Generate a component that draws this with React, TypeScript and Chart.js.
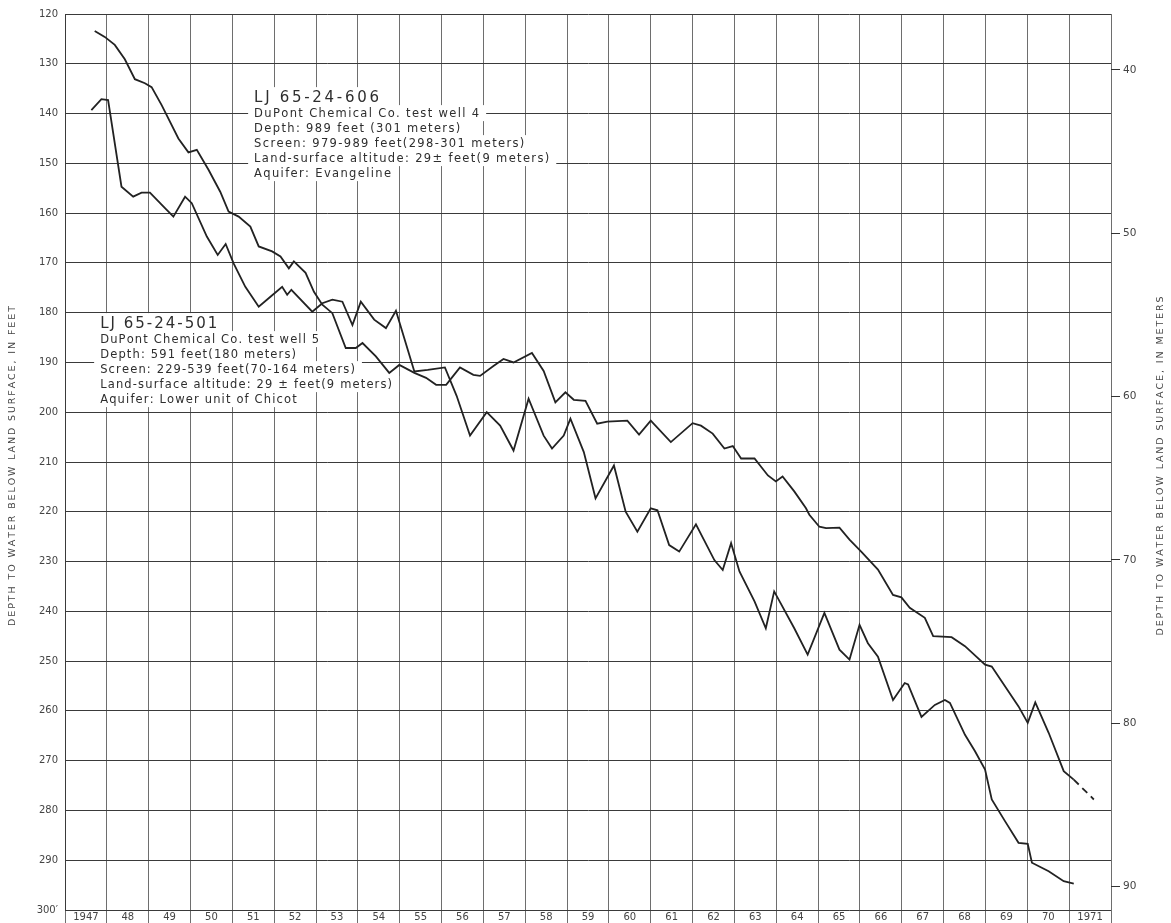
import React, { useEffect, useRef } from "react";
import { Chart, registerables } from "chart.js";

Chart.register(...registerables);

const FT_PER_M = 3.28084;
const FONT = "'DejaVu Sans', sans-serif";

// Tick values / labels
const feetTicks = [120, 130, 140, 150, 160, 170, 180, 190, 200, 210, 220, 230, 240, 250, 260, 270, 280, 290, 300];
const meterTicks = [40, 50, 60, 70, 80, 90];
const yearGrid = [1947, 1948, 1949, 1950, 1951, 1952, 1953, 1954, 1955, 1956, 1957, 1958, 1959, 1960, 1961, 1962, 1963, 1964, 1965, 1966, 1967, 1968, 1969, 1970, 1971, 1972];
const yearLabels = ["1947", "48", "49", "50", "51", "52", "53", "54", "55", "56", "57", "58", "59", "60", "61", "62", "63", "64", "65", "66", "67", "68", "69", "70", "1971"];

// LJ 65-24-606 (Evangeline)
const wellAYears = [1947.71, 1947.95, 1948.19, 1948.43, 1948.67, 1948.91, 1949.07, 1949.31, 1949.71, 1949.95, 1950.15, 1950.43, 1950.71, 1950.91, 1951.15, 1951.43, 1951.63, 1951.95, 1952.15, 1952.35, 1952.47, 1952.75, 1952.95, 1953.15, 1953.39, 1953.71, 1953.95, 1954.11, 1954.43, 1954.75, 1954.99, 1955.35, 1955.63, 1955.87, 1956.11, 1956.27, 1956.44, 1956.76, 1956.92, 1957.24, 1957.48, 1957.72, 1958.16, 1958.44, 1958.72, 1958.96, 1959.16, 1959.44, 1959.72, 1959.96, 1960.44, 1960.72, 1961.0, 1961.48, 1962.0, 1962.2, 1962.48, 1962.76, 1962.96, 1963.16, 1963.48, 1963.8, 1963.99, 1964.15, 1964.43, 1964.71, 1964.79, 1965.03, 1965.19, 1965.51, 1965.75, 1966.03, 1966.43, 1966.79, 1966.99, 1967.19, 1967.55, 1967.75, 1968.19, 1968.51, 1968.99, 1969.15, 1969.47, 1969.79, 1970.01, 1970.19, 1970.51, 1970.87, 1971.11];
const wellADepth = [123.4, 124.6, 126.2, 129.1, 133.1, 133.9, 134.7, 138.3, 145.0, 147.8, 147.3, 151.3, 155.7, 159.7, 160.7, 162.7, 166.7, 167.7, 168.7, 171.1, 169.7, 172.0, 175.8, 178.4, 180.1, 187.1, 187.1, 186.1, 188.8, 192.1, 190.5, 192.1, 193.1, 194.5, 194.5, 192.8, 191.0, 192.5, 192.7, 190.7, 189.3, 190.0, 188.1, 191.7, 198.0, 196.0, 197.5, 197.7, 202.3, 201.9, 201.7, 204.5, 201.7, 206.0, 202.2, 202.7, 204.3, 207.3, 206.8, 209.3, 209.3, 212.7, 213.9, 212.9, 215.9, 219.3, 220.6, 223.0, 223.3, 223.2, 225.6, 228.0, 231.6, 236.7, 237.2, 239.3, 241.3, 245.0, 245.2, 247.0, 250.7, 251.1, 255.1, 259.1, 262.4, 258.3, 264.4, 272.1, 273.8];
// estimated continuation (dashed)
const wellAEstYears = [1971.11, 1971.59];
const wellAEstDepth = [273.8, 277.8];

// LJ 65-24-501 (Lower unit of Chicot)
const wellBYears = [1947.63, 1947.87, 1948.03, 1948.35, 1948.63, 1948.83, 1949.03, 1949.39, 1949.59, 1949.87, 1950.03, 1950.39, 1950.65, 1950.84, 1951.03, 1951.31, 1951.63, 1951.91, 1952.19, 1952.31, 1952.41, 1952.91, 1953.15, 1953.39, 1953.63, 1953.87, 1954.07, 1954.39, 1954.67, 1954.91, 1955.35, 1955.67, 1956.08, 1956.36, 1956.68, 1957.08, 1957.4, 1957.72, 1958.08, 1958.44, 1958.64, 1958.92, 1959.08, 1959.4, 1959.68, 1960.12, 1960.4, 1960.68, 1961.0, 1961.16, 1961.44, 1961.68, 1962.08, 1962.52, 1962.72, 1962.92, 1963.12, 1963.48, 1963.75, 1963.95, 1964.43, 1964.75, 1965.15, 1965.51, 1965.75, 1965.99, 1966.19, 1966.43, 1966.79, 1967.07, 1967.15, 1967.47, 1967.79, 1968.03, 1968.15, 1968.51, 1968.75, 1968.99, 1969.15, 1969.47, 1969.79, 1970.01, 1970.11, 1970.51, 1970.87, 1971.11];
const wellBDepth = [139.3, 137.1, 137.3, 154.7, 156.7, 155.9, 155.9, 159.0, 160.7, 156.7, 158.0, 164.7, 168.4, 166.2, 170.1, 174.8, 178.8, 176.8, 174.8, 176.4, 175.4, 179.8, 178.1, 177.4, 177.8, 182.5, 177.8, 181.4, 183.1, 179.6, 191.8, 191.5, 191.0, 196.7, 204.7, 200.0, 202.7, 207.7, 197.3, 204.7, 207.3, 204.7, 201.3, 208.0, 217.3, 210.7, 220.0, 224.0, 219.3, 219.7, 226.7, 228.0, 222.5, 229.7, 231.7, 226.3, 232.0, 238.0, 243.4, 236.0, 243.4, 248.7, 240.3, 247.7, 249.7, 242.7, 246.4, 249.1, 257.8, 254.4, 254.7, 261.2, 258.8, 257.8, 258.4, 264.8, 268.1, 271.8, 277.8, 282.2, 286.5, 286.7, 290.5, 292.2, 294.2, 294.7];

const noteALines = [
  "LJ 65-24-606",
  "DuPont Chemical Co. test well 4",
  "Depth: 989 feet (301 meters)",
  "Screen: 979-989 feet(298-301 meters)",
  "Land-surface altitude: 29\u00b1 feet(9 meters)",
  "Aquifer: Evangeline",
];
const noteBLines = [
  "LJ 65-24-501",
  "DuPont Chemical Co. test well 5",
  "Depth: 591 feet(180 meters)",
  "Screen: 229-539 feet(70-164 meters)",
  "Land-surface altitude: 29 \u00b1 feet(9 meters)",
  "Aquifer: Lower unit of Chicot",
];
// anchor (year, feet) of each note's first line baseline
const noteAAnchor = [1951.52, 137.7];
const noteBAnchor = [1947.84, 183.1];

const leftTitle = "DEPTH TO WATER BELOW LAND SURFACE, IN FEET";
const rightTitle = "DEPTH TO WATER BELOW LAND SURFACE, IN METERS";

const toPts = (xs: number[], ys: number[]) => xs.map((x, i) => ({ x, y: ys[i] }));

function spacedWidth(ctx: CanvasRenderingContext2D, text: string, sp: number) {
  let w = 0;
  for (const ch of text) w += ctx.measureText(ch).width + sp;
  return w - sp;
}
function drawSpaced(ctx: CanvasRenderingContext2D, text: string, x: number, y: number, sp: number) {
  let cx = x;
  for (const ch of text) {
    ctx.fillText(ch, cx, y);
    cx += ctx.measureText(ch).width + sp;
  }
}

function drawNote(chart: any, lines: string[], anchor: number[], titleSp: number, bodySp: number) {
  const ctx: CanvasRenderingContext2D = chart.ctx;
  const x0 = chart.scales.x.getPixelForValue(anchor[0]);
  const y0 = chart.scales.y.getPixelForValue(anchor[1]);
  ctx.save();
  const items = lines.map((t, i) => {
    const size = i === 0 ? 15 : 11.5;
    ctx.font = `${size}px ${FONT}`;
    const sp = i === 0 ? titleSp : bodySp;
    const w = spacedWidth(ctx, t, sp);
    const base = i === 0 ? y0 : y0 + 15 * i;
    return { t, size, sp, w, base };
  });
  ctx.fillStyle = "#ffffff";
  items.forEach((it, i) => {
    const top = it.base - (i === 0 ? 15 : 12);
    ctx.fillRect(x0 - 6, top, it.w + 13, it.base + 4 - top);
  });
  ctx.fillStyle = "#2e2e2e";
  ctx.textBaseline = "alphabetic";
  ctx.textAlign = "left";
  items.forEach((it) => {
    ctx.font = `${it.size}px ${FONT}`;
    drawSpaced(ctx, it.t, x0, it.base, it.sp);
  });
  ctx.restore();
}

const notesPlugin = {
  id: "notes",
  beforeDatasetsDraw(chart: any) {
    drawNote(chart, noteALines, noteAAnchor, 2.7, 1.35);
    drawNote(chart, noteBLines, noteBAnchor, 2.0, 1.15);
  },
};

function drawRotatedTitle(ctx: CanvasRenderingContext2D, text: string, cx: number, cy: number, sp: number) {
  ctx.save();
  ctx.font = `9.5px ${FONT}`;
  ctx.fillStyle = "#444";
  ctx.textBaseline = "middle";
  ctx.textAlign = "left";
  ctx.translate(cx, cy);
  ctx.rotate(-Math.PI / 2);
  const w = spacedWidth(ctx, text, sp);
  drawSpaced(ctx, text, -w / 2, 0, sp);
  ctx.restore();
}

const titlesPlugin = {
  id: "titles",
  afterDraw(chart: any) {
    const { left, right, top, bottom } = chart.chartArea;
    const cy = (top + bottom) / 2;
    drawRotatedTitle(chart.ctx, leftTitle, left - 52, cy + 4, 1.9);
    drawRotatedTitle(chart.ctx, rightTitle, right + 50, cy + 4, 1.9);
  },
};

export default function App() {
  const ref = useRef<HTMLCanvasElement>(null);
  useEffect(() => {
    const canvas = ref.current!;
    const xTickValues: number[] = [];
    yearGrid.forEach((y) => {
      xTickValues.push(y);
      if (y < 1972) xTickValues.push(y + 0.5);
    });
    const lineStyle = { borderColor: "#222", borderWidth: 1.8, pointRadius: 0, tension: 0, fill: false };
    const chart = new Chart(canvas, {
      type: "line",
      data: {
        datasets: [
          { label: "LJ 65-24-606", data: toPts(wellAYears, wellADepth), ...lineStyle },
          { label: "LJ 65-24-606 (estimated)", data: toPts(wellAEstYears, wellAEstDepth), ...lineStyle, borderDash: [7, 5] },
          { label: "LJ 65-24-501", data: toPts(wellBYears, wellBDepth), ...lineStyle },
        ],
      },
      options: {
        animation: false,
        responsive: false,
        devicePixelRatio: 1,
        layout: { padding: { top: 14, left: 0, right: 0, bottom: 0 } },
        plugins: { legend: { display: false }, tooltip: { enabled: false }, title: { display: false } },
        scales: {
          x: {
            type: "linear",
            position: "bottom",
            min: 1947,
            max: 1972,
            afterBuildTicks: (s: any) => {
              s.ticks = xTickValues.map((v) => ({ value: v }));
            },
            afterFit: (s: any) => {
              s.height = 13;
            },
            grid: {
              color: (c: any) => (c.tick && Number.isInteger(c.tick.value) ? "#6e6e6e" : "rgba(0,0,0,0)"),
              lineWidth: 1,
              drawTicks: true,
              tickLength: 13,
            },
            border: { display: false },
            ticks: {
              autoSkip: false,
              maxRotation: 0,
              minRotation: 0,
              padding: -12,
              color: "#444",
              font: { family: FONT, size: 10 },
              callback: (v: any) => {
                const n = Number(v);
                if (Number.isInteger(n)) return "";
                return yearLabels[Math.floor(n) - 1947] ?? "";
              },
            },
          },
          y: {
            type: "linear",
            position: "left",
            min: 120,
            max: 300,
            reverse: true,
            afterBuildTicks: (s: any) => {
              s.ticks = feetTicks.map((v) => ({ value: v }));
            },
            afterFit: (s: any) => {
              s.width = 65;
            },
            grid: { color: "#3a3a3a", lineWidth: 1, drawTicks: false },
            border: { display: true, color: "#3a3a3a" },
            ticks: {
              padding: 7,
              color: "#444",
              font: { family: FONT, size: 10 },
              callback: (v: any) => (Number(v) === 300 ? "300\u2032" : String(v)),
            },
          },
          y2: {
            type: "linear",
            position: "right",
            min: 120 / FT_PER_M,
            max: 300 / FT_PER_M,
            reverse: true,
            afterBuildTicks: (s: any) => {
              s.ticks = meterTicks.map((v) => ({ value: v }));
            },
            afterFit: (s: any) => {
              s.width = 60;
            },
            grid: { drawOnChartArea: false, drawTicks: true, tickLength: 9, color: "#333", lineWidth: 1 },
            border: { display: false },
            ticks: {
              padding: 3,
              color: "#444",
              font: { family: FONT, size: 10.5 },
            },
          },
        },
      } as any,
      plugins: [notesPlugin, titlesPlugin],
    });
    return () => chart.destroy();
  }, []);
  return (
    <div style={{ position: "absolute", left: 0, top: 0, width: 1171, height: 923, background: "#ffffff", overflow: "hidden" }}>
      <canvas ref={ref} width={1171} height={923} style={{ display: "block" }} />
    </div>
  );
}
